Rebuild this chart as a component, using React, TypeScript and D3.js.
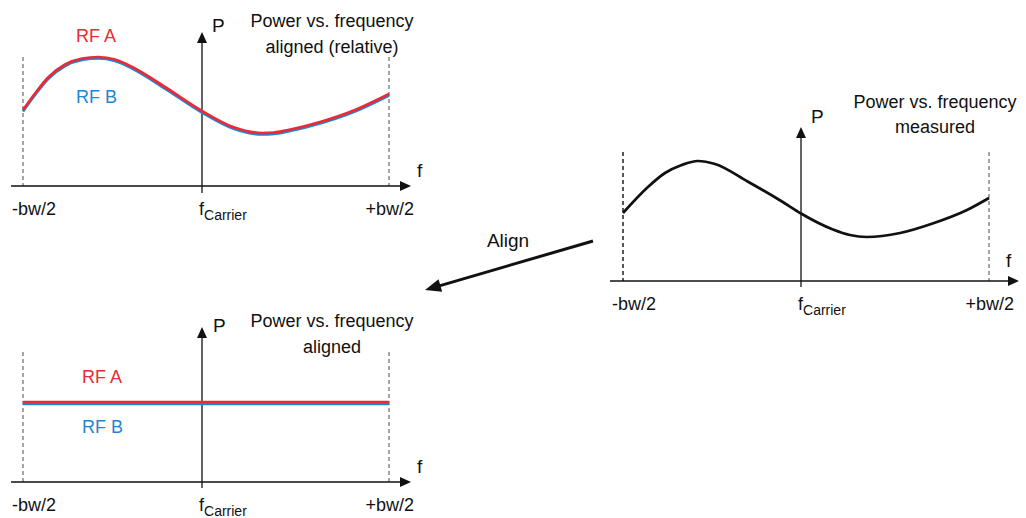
import React from "react";
import * as d3 from "d3";

// Normalised frequency: -1 = -bw/2, 0 = carrier, +1 = +bw/2
const freqRelative = [-1, -0.933, -0.86, -0.765, -0.67, -0.58, -0.486, -0.39, -0.207, 0, 0.166, 0.32, 0.385, 0.46, 0.64, 0.818, 1.0];
const rfARelative = [7.6, 9.25, 10.85, 12.15, 12.75, 12.9, 12.65, 11.9, 9.9, 7.5, 5.9, 5.3, 5.35, 5.6, 6.45, 7.6, 9.2];
const rfBRelative = [7.45, 9.1, 10.7, 12.0, 12.6, 12.75, 12.5, 11.75, 9.75, 7.35, 5.75, 5.15, 5.2, 5.45, 6.3, 7.45, 9.05];

const freqMeasured = [-1, -0.86, -0.764, -0.67, -0.58, -0.483, -0.3, -0.107, 0, 0.17, 0.26, 0.35, 0.527, 0.7, 0.883, 1.0];
const powerMeasured = [6.8, 9.4, 10.8, 11.6, 12.0, 11.7, 9.95, 7.95, 6.75, 5.15, 4.6, 4.4, 4.8, 5.75, 7.1, 8.3];

const freqAligned = [-1, 1];
const rfAAligned = [8.0, 8.0];
const rfBAligned = [7.8, 7.8];

const tickLabels = ["-bw/2", "f", "+bw/2"];
const carrierSub = "Carrier";
const seriesNames = ["RF A", "RF B"];

const FONT = "'Liberation Sans', Arial, sans-serif";
const RED = "#ec2a35";
const BLUE = "#1f86d3";
const INK = "#111";

type Series = { freq: number[]; power: number[]; color: string };

type PanelProps = {
  axisY: number;
  xStart: number;
  xTip: number;
  yTip: number;
  yBottom: number;
  dashTop: number;
  fx: [number, number, number];
  title: string[];
  titleX: number;
  titleY: number;
  titleGap: number;
  pPos: [number, number];
  fPos: [number, number];
  labelY: number;
  series: Series[];
  labels?: { text: string; color: string; x: number; y: number }[];
  leftDashColor: string;
};

function Panel(p: PanelProps) {
  const x = d3.scaleLinear().domain([-1, 0, 1]).range(p.fx);
  const y = d3.scaleLinear().domain([0, 15]).range([p.axisY, p.axisY - 150]);
  const line = d3
    .line<[number, number]>()
    .x((d) => x(d[0]))
    .y((d) => y(d[1]))
    .curve(d3.curveMonotoneX);
  const cx = x(0);
  const [xL, , xR] = p.fx;
  return (
    <g>
      {/* band edges */}
      <line x1={xL} x2={xL} y1={p.dashTop} y2={p.axisY} stroke={p.leftDashColor} strokeWidth={1.5} strokeDasharray="4,3" />
      <line x1={xR} x2={xR} y1={p.dashTop} y2={p.axisY} stroke="#888" strokeWidth={1.5} strokeDasharray="4,3" />
      {/* axes */}
      <line x1={p.xStart} x2={p.xTip - 8} y1={p.axisY} y2={p.axisY} stroke={INK} strokeWidth={1.3} />
      <path d={`M${p.xTip},${p.axisY} L${p.xTip - 11},${p.axisY - 5} L${p.xTip - 11},${p.axisY + 5} Z`} fill={INK} />
      <line x1={cx} x2={cx} y1={p.yBottom} y2={p.yTip + 8} stroke={INK} strokeWidth={1.3} />
      <path d={`M${cx},${p.yTip} L${cx - 5},${p.yTip + 11} L${cx + 5},${p.yTip + 11} Z`} fill={INK} />
      {/* curves */}
      {p.series.map((s, i) => (
        <path
          key={i}
          d={line(s.freq.map((f, j) => [f, s.power[j]] as [number, number])) || ""}
          fill="none"
          stroke={s.color}
          strokeWidth={2.7}
        />
      ))}
      {/* axis labels */}
      <text x={p.pPos[0]} y={p.pPos[1]} fontSize={19} fill={INK}>P</text>
      <text x={p.fPos[0]} y={p.fPos[1]} fontSize={19} fill={INK}>f</text>
      {p.title.map((t, i) => (
        <text key={i} x={p.titleX} y={p.titleY + i * p.titleGap} fontSize={18} textAnchor="middle" fill={INK}>
          {t}
        </text>
      ))}
      <text x={xL - 11} y={p.labelY} fontSize={18} fill={INK}>{tickLabels[0]}</text>
      <text x={cx - 3} y={p.labelY} fontSize={18} fill={INK}>
        {tickLabels[1]}
        <tspan fontSize={14} dy={5}>{carrierSub}</tspan>
      </text>
      <text x={xR + 25} y={p.labelY} fontSize={18} textAnchor="end" fill={INK}>{tickLabels[2]}</text>
      {(p.labels || []).map((l, i) => (
        <text key={i} x={l.x} y={l.y} fontSize={18} fill={l.color}>{l.text}</text>
      ))}
    </g>
  );
}

export default function App() {
  // Align arrow geometry
  const a0: [number, number] = [593, 241];
  const a1: [number, number] = [425, 290];
  const dx = a0[0] - a1[0];
  const dy = a0[1] - a1[1];
  const len = Math.hypot(dx, dy);
  const ux = dx / len;
  const uy = dy / len;
  const headL = 16;
  const headW = 6.5;
  const bx = a1[0] + ux * headL;
  const by = a1[1] + uy * headL;
  const head = `M${a1[0]},${a1[1]} L${bx - uy * headW},${by + ux * headW} L${bx + uy * headW},${by - ux * headW} Z`;

  return (
    <svg
      width={1026}
      height={518}
      style={{ position: "absolute", left: 0, top: 0, background: "#fff" }}
      fontFamily={FONT}
    >
      <Panel
        axisY={186}
        xStart={11}
        xTip={411}
        yTip={32}
        yBottom={193}
        dashTop={57}
        fx={[23, 202, 389]}
        title={["Power vs. frequency", "aligned (relative)"]}
        titleX={332}
        titleY={27}
        titleGap={26}
        pPos={[212, 32]}
        fPos={[417, 177]}
        labelY={215}
        series={[
          { freq: freqRelative, power: rfBRelative, color: BLUE },
          { freq: freqRelative, power: rfARelative, color: RED },
        ]}
        labels={[
          { text: seriesNames[0], color: RED, x: 76, y: 42 },
          { text: seriesNames[1], color: BLUE, x: 76, y: 103 },
        ]}
        leftDashColor="#888"
      />
      <Panel
        axisY={482}
        xStart={11}
        xTip={411}
        yTip={327}
        yBottom={488}
        dashTop={352}
        fx={[23, 202, 389]}
        title={["Power vs. frequency", "aligned"]}
        titleX={332}
        titleY={327}
        titleGap={26}
        pPos={[213, 332]}
        fPos={[417, 473]}
        labelY={511}
        series={[
          { freq: freqAligned, power: rfBAligned, color: BLUE },
          { freq: freqAligned, power: rfAAligned, color: RED },
        ]}
        labels={[
          { text: seriesNames[0], color: RED, x: 82, y: 383 },
          { text: seriesNames[1], color: BLUE, x: 82, y: 433 },
        ]}
        leftDashColor="#888"
      />
      <Panel
        axisY={281}
        xStart={610}
        xTip={1019}
        yTip={127}
        yBottom={287}
        dashTop={152}
        fx={[623, 801, 989]}
        title={["Power vs. frequency", "measured"]}
        titleX={935}
        titleY={108}
        titleGap={25}
        pPos={[811, 123]}
        fPos={[1006, 267]}
        labelY={310}
        series={[{ freq: freqMeasured, power: powerMeasured, color: INK }]}
        leftDashColor="#222"
      />
      {/* Align arrow */}
      <line x1={a0[0]} y1={a0[1]} x2={bx - ux * 2} y2={by - uy * 2} stroke={INK} strokeWidth={3} />
      <path d={head} fill={INK} />
      <text x={508} y={247} fontSize={19} textAnchor="middle" fill={INK}>Align</text>
    </svg>
  );
}
